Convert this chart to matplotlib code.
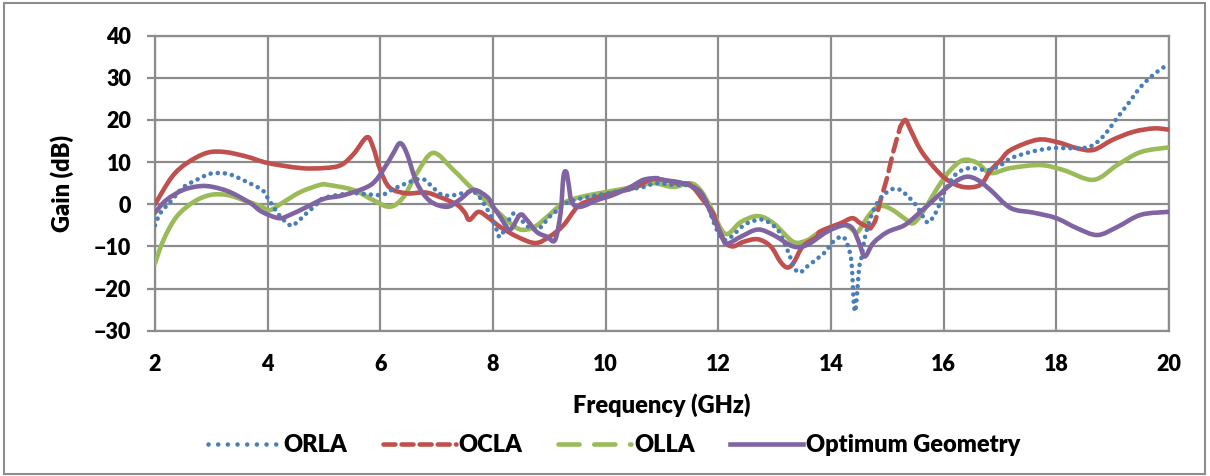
import matplotlib
matplotlib.use("Agg")
import matplotlib.pyplot as plt
from matplotlib.lines import Line2D
from matplotlib.patches import Rectangle, PathPatch
from matplotlib.path import Path
import numpy as np

FONT = 'Lato'
WEIGHT = 'heavy'
plt.rcParams['font.family'] = FONT
plt.rcParams['font.weight'] = WEIGHT

# ---------------- data ----------------
orla_x = [2.0, 2.1, 2.3, 2.5, 2.8, 3.0, 3.3, 3.6, 3.9, 4.0, 4.2, 4.4, 4.5, 4.7, 4.85, 5.0, 5.5, 6.0, 6.2, 6.5,
          6.75, 6.94, 7.1, 7.33, 7.54, 7.7, 7.83, 7.95, 8.05, 8.13, 8.3, 8.4, 8.5, 8.6, 8.7, 8.85, 9.0, 9.15, 9.3,
          9.6, 10.0, 10.4, 10.67, 10.9, 11.2, 11.5, 11.75, 11.9, 12.0, 12.1, 12.25, 12.4, 12.57, 12.8, 13.05, 13.2,
          13.4, 13.6, 13.9, 14.0, 14.17, 14.26, 14.35, 14.38, 14.4, 14.43, 14.47, 14.5, 14.54, 14.6, 14.7, 14.82,
          14.93, 15.09, 15.23, 15.38, 15.53, 15.7, 15.8, 15.9, 15.97, 16.08, 16.24, 16.47, 16.78, 17.0, 17.19, 17.54,
          17.9, 18.25, 18.55, 18.73, 18.9, 19.08, 19.26, 19.5, 19.73, 19.94, 20.0]
orla_y = [-5, -2, 1, 4, 6.2, 7.3, 7.2, 5.5, 3.4, 1.5, -2.5, -5, -4.5, -2, -0.3, 1.5, 2.6, 2.2, 3.4, 5.2,
          6, 3.9, 2.2, 2.2, 2.9, 2.6, 0.3, -2.5, -5.5, -7.7, -3.3, -2, -3.7, -5, -6, -5.4, -3, -1.4, 0.3,
          1.5, 2.5, 3.5, 4.1, 5, 4.6, 4.3, 1.5, -3.7, -6.8, -8.5, -7.5, -5.5, -4.2, -3.7, -6, -10,
          -16, -14.5, -11.3, -9.4, -7.7, -8.5, -12.4, -17, -22.7, -25.4, -20, -15, -12.7, -8, -3.3, 0.3,
          2.2, 3.6, 3.4, 1.7, -0.6, -4.2, -3.3, -0.9, 1.7, 4.6, 7.4, 8.6, 8.1, 9.2, 10.9, 12.4,
          13.3, 13.3, 13.5, 14.8, 17.2, 20.5, 23.6, 27.9, 30.8, 32.8, 33]

ocla_x = [2.0, 2.3, 2.57, 2.92, 3.24, 3.63, 4.0, 4.58, 5.0, 5.3, 5.53, 5.76, 5.87, 6.0, 6.17, 6.47, 6.8, 7.06,
          7.36, 7.5, 7.58, 7.74, 7.9, 8.13, 8.43, 8.75, 9.0, 9.25, 9.5, 9.73, 10.0, 10.5, 10.85, 11.27, 11.5,
          11.73, 11.9, 11.95, 12.09, 12.25, 12.45, 12.7, 12.93, 13.1, 13.22, 13.33, 13.5, 13.75, 13.8, 14.17,
          14.38, 14.52, 14.7, 14.79, 14.88, 15.0, 15.1, 15.23, 15.32, 15.41, 15.59, 15.82, 16.06, 16.35, 16.65,
          16.83, 17.0, 17.19, 17.66, 18.0, 18.37, 18.66, 19.0, 19.37, 19.73, 20.0]
ocla_y = [0, 6.5, 9.8, 12.2, 12.4, 11.3, 9.8, 8.6, 8.6, 9.3, 12, 15.9, 13.6, 8.1, 3.9, 2.6, 2.8, 1.7,
          -0.1, -2, -3.7, -1.8, -3, -5.4, -7.7, -9.2, -7.7, -5, -0.6, 1, 2.2, 3.9, 6, 5, 4.6,
          1, -2, -3.7, -8.5, -10, -8.9, -8.3, -10, -13.6, -15, -14, -10, -7.7, -6.5, -4.5,
          -3.3, -4.5, -5.7, -3.7, 1, 6.5, 12.2, 18.4, 20, 17.7, 12.9, 8.9, 5.8, 4.1, 4.6,
          8, 10.3, 12.9, 15.3, 14.8, 13.3, 12.9, 15.3, 17.2, 18, 17.7]

olla_x = [2.0, 2.15, 2.38, 2.68, 2.98, 3.28, 3.57, 3.9, 4.04, 4.28, 4.58, 4.93, 5.07, 5.52, 5.87, 6.17, 6.41,
          6.65, 6.94, 7.3, 7.6, 7.9, 8.18, 8.43, 8.6, 8.78, 9.0, 9.25, 9.55, 10.0, 10.5, 10.85, 11.2, 11.5,
          11.68, 11.86, 12.12, 12.4, 12.7, 12.98, 13.33, 13.58, 13.8, 14.17, 14.35, 14.47, 14.65, 14.79, 14.93,
          15.1, 15.3, 15.46, 15.65, 15.9, 16.12, 16.35, 16.6, 16.83, 17.19, 17.72, 18.13, 18.66, 19.08, 19.5, 20.0]
olla_y = [-14, -8.5, -3, 0.5, 2.2, 2.2, 1, -0.6, -1.4, 0.5, 2.9, 4.6, 4.6, 3.4, 1, -0.6, 1.7,
          7.4, 12.2, 8.1, 4.1, 0.5, -3, -5.7, -6, -5, -2.5, 0.3, 1.7, 2.9, 4.1, 5, 4.1, 5,
          3.4, -0.6, -7, -4.2, -2.8, -4.5, -8.9, -8.5, -6.6, -4.7, -5.7, -6.6, -3, -0.9, -0.4,
          -1.4, -3.3, -4.5, -1.4, 4.1, 8.1, 10.5, 9.8, 7.4, 8.6, 9.3, 8.1, 5.8, 9.3, 12.4, 13.5]

opt_x = [2.0, 2.2, 2.5, 2.8, 3.03, 3.33, 3.69, 3.9, 4.2, 4.4, 4.7, 5.0, 5.3, 5.64, 5.87, 6.05, 6.23, 6.35, 6.47,
         6.65, 6.88, 7.18, 7.4, 7.65, 7.9, 8.0, 8.13, 8.3, 8.48, 8.6, 8.78, 8.96, 9.1, 9.2, 9.25, 9.3, 9.34, 9.4,
         9.55, 9.85, 10.13, 10.44, 10.67, 10.9, 11.0, 11.37, 11.68, 11.9, 12.07, 12.15, 12.4, 12.7, 12.98, 13.33,
         13.58, 13.93, 14.22, 14.38, 14.5, 14.6, 14.75, 15.0, 15.3, 15.53, 15.82, 16.12, 16.39, 16.6, 16.83,
         17.19, 17.6, 18.0, 18.37, 18.73, 19.08, 19.5, 20.0]
opt_y = [-2, 1, 3.4, 4.3, 4.1, 2.9, 0.3, -1.8, -3.3, -2.5, -0.6, 1.3, 2, 3.4, 5, 8.1, 12.1, 14.5, 12.1,
         5, 0.8, -0.6, 1, 3.4, 1.7, -0.5, -3, -6, -2.5, -3.7, -6.6, -7.7, -8.5, -2, 6.5, 7.7, 5, 0.5,
         -0.6, 1, 2.2, 4.1, 5.8, 6.2, 5.8, 5, 2.9, -3, -7.7, -9.4, -7.7, -6, -7.3, -10,
         -9.6, -6.5, -5, -5.7, -9.2, -12.4, -9.2, -6.6, -5, -2.5, 1, 4.6, 6.5, 5.8, 3.4,
         -0.9, -2, -3.3, -5.7, -7.3, -5.4, -2.5, -1.8]

series_names = ["ORLA", "OCLA", "OLLA", "Optimum Geometry"]
x_ticks = [2, 4, 6, 8, 10, 12, 14, 16, 18, 20]
y_ticks = [-30, -20, -10, 0, 10, 20, 30, 40]

# ---------------- styles ----------------
c_orla = '#4A7EBB'
c_ocla = '#C0504D'
c_olla = '#9BBB59'
c_opt = '#8064A2'
LW = 3.3


def smooth_path(xs, ys):
    """Smoothed line through the data points (like a spreadsheet 'smoothed line'),
    built from cubic Bezier segments whose ends are the data points."""
    p = np.column_stack([xs, ys]).astype(float)
    n = len(p)
    verts = [p[0]]
    codes = [Path.MOVETO]
    for i in range(n - 1):
        p0 = p[i - 1] if i > 0 else p[i]
        p1 = p[i]
        p2 = p[i + 1]
        p3 = p[i + 2] if i + 2 < n else p[i + 1]
        c1 = p1 + (p2 - p0) / 6.0
        c2 = p2 - (p3 - p1) / 6.0
        c1[0] = min(max(c1[0], p1[0]), p2[0])
        c2[0] = min(max(c2[0], p1[0]), p2[0])
        verts += [c1, c2, p2]
        codes += [Path.CURVE4] * 3
    return Path(verts, codes)


def draw(ax, xs, ys, color, z, ls='-'):
    patch = PathPatch(smooth_path(xs, ys), facecolor='none', edgecolor=color, lw=LW,
                      linestyle=ls, capstyle='round', joinstyle='round', zorder=z)
    ax.add_patch(patch)


fig = plt.figure(figsize=(12.10, 4.76), dpi=100)
ax = fig.add_axes([155/1210, 1 - 330.7/476, (1169 - 155)/1210, (330.7 - 35.7)/476])

ax.set_xlim(2, 20)
ax.set_ylim(-30, 40)
ax.set_xticks(x_ticks)
ax.set_yticks(y_ticks)
ax.grid(True, color='#8C8C8C', linewidth=1.6, zorder=0)
ax.set_axisbelow(True)
for s in ax.spines.values():
    s.set_color('#8C8C8C')
    s.set_linewidth(1.6)
ax.tick_params(axis='y', length=6, width=1.6, color='#8C8C8C', pad=11, labelsize=15.5)
ax.tick_params(axis='x', length=0, pad=17, labelsize=15.5)
for lab in ax.get_xticklabels() + ax.get_yticklabels():
    lab.set_fontweight(WEIGHT)
    lab.set_family(FONT)

# OLLA
draw(ax, olla_x, olla_y, c_olla, 3)
# OCLA: solid, with the sparse rising segment dashed
ox = np.array(ocla_x); oy = np.array(ocla_y)
m1 = ox <= 14.7
m2 = (ox >= 14.7) & (ox <= 15.28)
m3 = ox >= 15.23
draw(ax, ox[m1], oy[m1], c_ocla, 4)
draw(ax, ox[m2], oy[m2], c_ocla, 4, ls=(0, (2.8, 1.6)))
draw(ax, ox[m3], oy[m3], c_ocla, 4)
# ORLA dotted
draw(ax, orla_x, orla_y, c_orla, 5, ls=(0, (0.01, 1.55)))
# Optimum
draw(ax, opt_x, opt_y, c_opt, 6)

ax.set_xlabel('Frequency (GHz)', fontsize=17, fontweight=WEIGHT, family=FONT)
ax.set_ylabel('Gain (dB)', fontsize=17, fontweight=WEIGHT, family=FONT)
ax.xaxis.set_label_coords(0.5, (330.7 - 405) / 295.0)
ax.xaxis.label.set_va('center')
ax.yaxis.set_label_coords(62 / 1210, 1 - 183 / 476, transform=fig.transFigure)
ax.yaxis.label.set(rotation_mode='default', ha='center', va='center')

handles = [
    Line2D([], [], color=c_orla, lw=LW, linestyle=(0, (0.01, 2.1)), dash_capstyle='round'),
    Line2D([], [], color=c_ocla, lw=LW, linestyle=(0, (2.6, 1.35)), dash_capstyle='round'),
    Line2D([], [], color=c_olla, lw=LW, linestyle=(0, (4.6, 3.2)), dash_capstyle='round'),
    Line2D([], [], color=c_opt, lw=LW),
]
leg = fig.legend(handles, series_names, loc='center', bbox_to_anchor=(614/1210, 1 - 445/476),
                 ncol=4, frameon=False, handlelength=3.1, handletextpad=0.12, columnspacing=1.5,
                 prop={'family': FONT, 'weight': WEIGHT, 'size': 17})

fig.patches.append(Rectangle((4/1210, 2/476), 1201/1210, 471/476, transform=fig.transFigure,
                             fill=False, edgecolor='#8C8C8C', linewidth=1.5))

fig.savefig('out.png', dpi=100)
